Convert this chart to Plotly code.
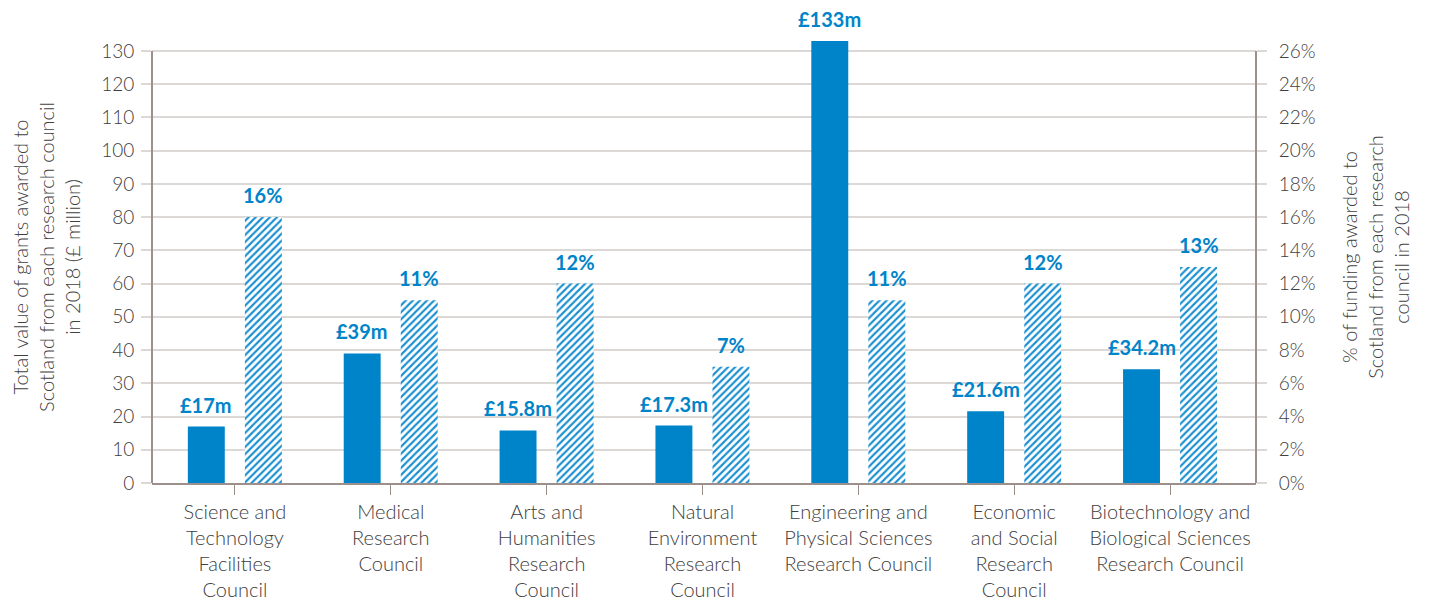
import plotly.graph_objs as go

# research councils (x categories)
councils = [
    "Science and<br>Technology<br>Facilities<br>Council",
    "Medical<br>Research<br>Council",
    "Arts and<br>Humanities<br>Research<br>Council",
    "Natural<br>Environment<br>Research<br>Council",
    "Engineering and<br>Physical Sciences<br>Research Council",
    "Economic<br>and Social<br>Research<br>Council",
    "Biotechnology and<br>Biological Sciences<br>Research Council",
]
grants_m = [17, 39, 15.8, 17.3, 133, 21.6, 34.2]   # £ million
grants_label = ["£17m", "£39m", "£15.8m", "£17.3m", "£133m", "£21.6m", "£34.2m"]
share_pct = [16, 11, 12, 7, 11, 12, 13]             # % of council funding

left_ticks = list(range(0, 131, 10))
right_ticks = list(range(0, 27, 2))

blue = "#0084c9"
text_col = "#404040"
grid_col = "#dcd8d6"
axis_col = "#9d8f8c"
font = "Lato"

x = list(range(len(councils)))
bar_w = 0.237

# extra headroom above 130 so the £133m bar isn't cut off
y_top = 136
y2_top = y_top / 5.0

fig = go.Figure()

fig.add_trace(go.Bar(
    x=x, y=grants_m,
    width=bar_w, offset=-0.302,
    marker=dict(color=blue, line=dict(width=0)),
    hoverinfo="y",
))

fig.add_trace(go.Bar(
    x=x, y=share_pct, yaxis="y2",
    width=bar_w, offset=0.064,
    marker=dict(
        color="white",
        line=dict(width=0),
        pattern=dict(shape="/", fgcolor="#1a8fd0", fgopacity=1, bgcolor="white",
                     size=5, solidity=0.42),
    ),
    hoverinfo="y",
))

# value labels above the bars
lfont = dict(family=font, size=20, color=blue, weight=700)
annotations = []
for i, v in enumerate(grants_m):
    annotations.append(dict(
        x=i - 0.183, y=v, xref="x", yref="y",
        text=grants_label[i],
        showarrow=False, yanchor="bottom", yshift=8,
        font=lfont,
    ))
for i, p in enumerate(share_pct):
    annotations.append(dict(
        x=i + 0.183, y=p, xref="x", yref="y2",
        text="%d%%" % p,
        showarrow=False, yanchor="bottom", yshift=8,
        font=lfont,
    ))

# axis lines stop at the top tick (130 / 26%)
shapes = [
    dict(type="line", xref="paper", yref="y", x0=0, x1=0, y0=0, y1=130,
         line=dict(color=axis_col, width=2)),
    dict(type="line", xref="paper", yref="y", x0=1, x1=1, y0=0, y1=130,
         line=dict(color=axis_col, width=2)),
]

tfont = dict(family=font, size=20, color=text_col, weight=300)
yfont = dict(family=font, size=19, color=text_col, weight=300)
xfont = dict(family=font, size=20, color=text_col, weight=300)

# page body has an 8px margin, so the figure is a little smaller than the window
fig.update_layout(
    width=1422, height=593,
    margin=dict(l=144, r=174, t=23, b=118),
    paper_bgcolor="white", plot_bgcolor="white",
    showlegend=False,
    font=tfont,
    annotations=annotations,
    shapes=shapes,
    xaxis=dict(
        tickmode="array", tickvals=x, ticktext=councils,
        range=[-0.532, 6.551], automargin=False,
        showgrid=False, zeroline=False,
        showline=True, linecolor=axis_col, linewidth=2,
        ticks="outside", ticklen=10, tickcolor=axis_col, tickwidth=1,
        tickfont=xfont,
    ),
    yaxis=dict(
        range=[0, y_top], tickvals=left_ticks, automargin=False,
        showgrid=True, gridcolor=grid_col, gridwidth=1.5,
        zeroline=False, showline=False,
        ticks="outside", ticklen=10, tickcolor=grid_col, tickwidth=1.5,
        ticklabelstandoff=3,
        tickfont=yfont,
        title=dict(
            text="Total value of grants awarded to<br>Scotland from each research council<br>in 2018 (£ million)",
            font=tfont,
            standoff=22,
        ),
    ),
    yaxis2=dict(
        range=[0, y2_top], tickvals=right_ticks, automargin=False,
        ticktext=["%d%%" % t for t in right_ticks],
        overlaying="y", side="right",
        showgrid=False, zeroline=False, showline=False,
        ticks="outside", ticklen=10, tickcolor=grid_col, tickwidth=1.5,
        ticklabelstandoff=8,
        tickfont=yfont,
        title=dict(
            text="% of funding awarded to<br>Scotland from each research<br>council in 2018",
            font=tfont,
            standoff=28,
        ),
    ),
)

fig.write_html("out.html")
